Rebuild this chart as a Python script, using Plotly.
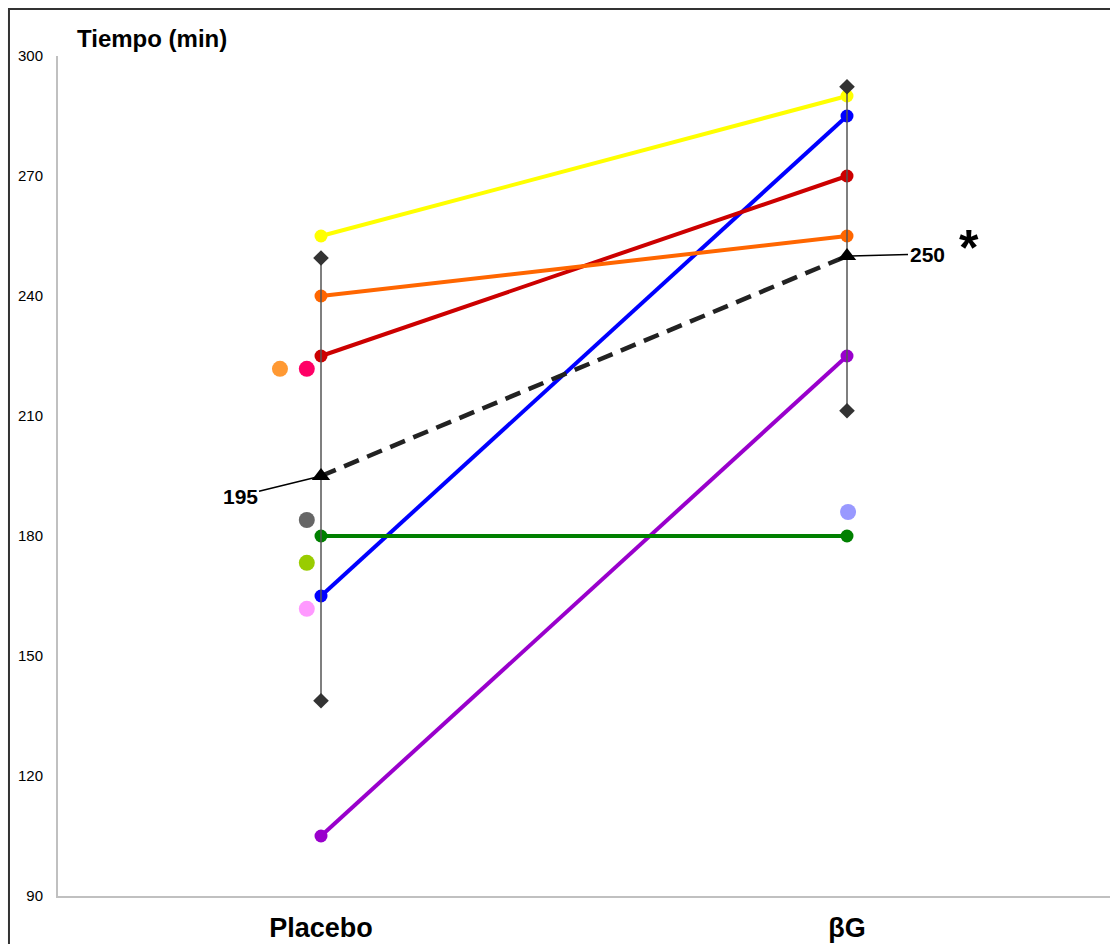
import plotly.graph_objects as go

groups = ["Placebo", "βG"]
group_x = [1, 2]

# paired subjects (Placebo, βG)
subject_colors = ["#FFFF00", "#0000FF", "#CC0000", "#FF6600", "#9900CC", "#008000"]
subject_values = [
    [255, 290],
    [165, 285],
    [225, 270],
    [240, 255],
    [105, 225],
    [180, 180],
]

mean_values = [195, 250]
max_values = [249.5, 292.3]
min_values = [138.8, 211.3]

# unpaired extra points
extra_x = [0.922, 0.973, 0.973, 0.973, 0.973, 2.002]
extra_y = [221.8, 221.8, 184, 173.3, 161.8, 186]
extra_colors = ["#FF9933", "#FF0066", "#666666", "#99CC00", "#FF99FF", "#9999FF"]

y_ticks = [90, 120, 150, 180, 210, 240, 270, 300]

FONT = "Liberation Sans, Arial, sans-serif"

fig = go.Figure()

for col, vals in zip(subject_colors, subject_values):
    fig.add_trace(go.Scatter(
        x=group_x, y=vals, mode="lines+markers",
        line=dict(color=col, width=4),
        marker=dict(color=col, size=13),
        showlegend=False, hoverinfo="y"))

for xv, yv, col in zip(extra_x, extra_y, extra_colors):
    fig.add_trace(go.Scatter(
        x=[xv], y=[yv], mode="markers",
        marker=dict(color=col, size=16),
        showlegend=False, hoverinfo="y"))

# range lines with diamond ends
for gx, lo, hi in zip(group_x, min_values, max_values):
    fig.add_trace(go.Scatter(
        x=[gx, gx], y=[lo, hi], mode="lines+markers",
        line=dict(color="#555555", width=1.5),
        marker=dict(symbol="diamond", color="#333333", size=12),
        showlegend=False, hoverinfo="y"))

fig.add_trace(go.Scatter(
    x=group_x, y=mean_values, mode="lines+markers",
    line=dict(color="#222222", width=4.5, dash="16px,9px"),
    marker=dict(symbol="triangle-up", color="#000000", size=16),
    showlegend=False, hoverinfo="y"))

fig.add_annotation(x=group_x[0], y=mean_values[0], text="<b>195</b>",
                   showarrow=True, arrowhead=0, arrowwidth=1.5, arrowcolor="#000",
                   ax=-81, ay=20, standoff=4,
                   font=dict(family=FONT, size=21, color="#000"))
fig.add_annotation(x=group_x[1], y=mean_values[1], text="<b>250</b>",
                   showarrow=True, arrowhead=0, arrowwidth=1.5, arrowcolor="#000",
                   ax=80, ay=-2, standoff=4,
                   font=dict(family=FONT, size=21, color="#000"))
fig.add_annotation(x=2.232, y=252, text="<b>*</b>", showarrow=False,
                   font=dict(family=FONT, size=50, color="#000"))

fig.add_annotation(xref="paper", yref="paper", x=0.016, y=1.0214,
                   xanchor="left", yanchor="middle", text="<b>Tiempo (min)</b>",
                   showarrow=False, font=dict(family=FONT, size=24, color="#000"))

fig.add_shape(type="rect", xref="paper", yref="paper",
              x0=-0.0466, x1=1.1, y0=-0.2, y1=1.056,
              line=dict(color="#333333", width=2), layer="below")

fig.update_layout(
    width=1110, height=944,
    margin=dict(l=58, r=0, t=56, b=48),
    paper_bgcolor="white", plot_bgcolor="white",
    font=dict(family=FONT, color="#000"),
    xaxis=dict(range=[0.5, 2.5], tickvals=group_x, ticktext=["<b>%s</b>" % g for g in groups],
               tickfont=dict(size=27, family=FONT), showgrid=False, zeroline=False,
               showline=True, linecolor="#C0C0C0", linewidth=2, ticks="",
               ticklabelstandoff=7, automargin=False),
    yaxis=dict(range=[90, 300], tickvals=y_ticks, tickfont=dict(size=15, family=FONT),
               showgrid=False, zeroline=False, showline=True, linecolor="#C0C0C0",
               linewidth=2, ticks="", ticklabelstandoff=10, automargin=False),
)

fig.write_html("out.html")
